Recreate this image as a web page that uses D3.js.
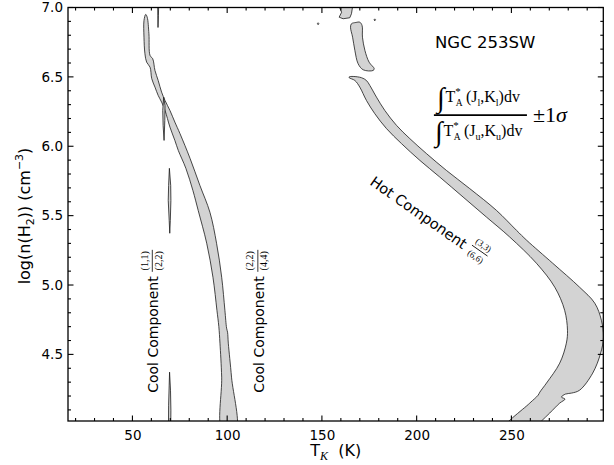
<!DOCTYPE html>
<html>
<head>
<meta charset="utf-8">
<script src="https://cdn.jsdelivr.net/npm/d3@7/dist/d3.min.js"></script>
<style>
body { margin: 0; background: #fff; }
text { font-family: "DejaVu Sans", sans-serif; fill: #000; }
.serif { font-family: "Liberation Serif", "DejaVu Serif", serif; }
</style>
</head>
<body>
<svg class="ratio_svg" width="614" height="465"></svg>
<script>
// tick values
var xMajor = [50, 100, 150, 200, 250];
var xMinor = [20, 30, 40, 60, 70, 80, 90, 110, 120, 130, 140, 160, 170, 180, 190, 210, 220, 230, 240, 260, 270, 280, 290];
var yMajor = [4.5, 5.0, 5.5, 6.0, 6.5, 7.0];
var yMinor = [4.1, 4.2, 4.3, 4.4, 4.6, 4.7, 4.8, 4.9, 5.1, 5.2, 5.3, 5.4, 5.6, 5.7, 5.8, 5.9, 6.1, 6.2, 6.3, 6.4, 6.6, 6.7, 6.8, 6.9];

// contour outlines, [T_K, log n(H2)]
var coolBand = [[57.0, 6.950], [57.8, 6.930], [58.7, 6.811], [59.3, 6.654], [60.7, 6.631], [61.9, 6.546],
    [63.6, 6.474], [65.4, 6.390], [67.2, 6.330], [69.8, 6.258], [72.4, 6.174], [75.1, 6.091],
    [80.4, 5.913], [85.6, 5.718], [90.9, 5.524], [94.4, 5.301], [97.1, 5.056], [98.8, 4.818],
    [99.7, 4.689], [100.2, 4.660], [100.6, 4.581], [102.3, 4.336], [104.5, 3.950],
    [97.5, 3.950], [97.1, 4.336], [96.2, 4.581], [95.6, 4.700], [94.6, 4.818], [92.5, 5.056],
    [89.2, 5.301], [84.7, 5.538], [81.9, 5.682], [78.2, 5.841], [74.2, 5.970], [72.4, 6.042],
    [69.8, 6.138], [67.2, 6.258], [65.4, 6.318], [63.6, 6.366], [61.9, 6.426], [60.2, 6.487],
    [59.3, 6.570], [57.5, 6.606], [56.6, 6.667], [56.1, 6.786], [56.1, 6.906]];
var coolSliver1 = [[63.3, 7.03], [63.9, 7.03], [63.7, 6.94], [63.5, 6.856], [63.4, 6.94]];
var coolSliver2 = [[66.5, 6.354], [67.2, 6.294], [67.1, 6.186], [66.7, 6.042], [66.2, 6.150], [66.0, 6.258]];
var coolSliver3 = [[69.5, 5.841], [70.2, 5.718], [70.3, 5.610], [70.0, 5.466], [69.7, 5.373],
    [69.4, 5.466], [68.9, 5.610], [69.1, 5.718]];
var coolSliver4 = [[69.6, 4.372], [70.1, 4.242], [70.3, 4.098], [70.2, 3.95], [69.0, 3.95], [69.1, 4.134], [69.4, 4.278]];

var hotBand = [[164.4, 6.500], [166.5, 6.503], [170.9, 6.494], [173.5, 6.474], [175.3, 6.438],
    [178.8, 6.354], [183.2, 6.258], [189.4, 6.150], [196.4, 6.055], [205.2, 5.947], [215.7, 5.826],
    [228.0, 5.695], [242.1, 5.538], [252.7, 5.394], [258.1, 5.322], [271.8, 5.157], [286.0, 4.984],
    [294.0, 4.869], [297.5, 4.746], [298.6, 4.624], [297.1, 4.509], [292.9, 4.365], [286.0, 4.242],
    [281.7, 4.221], [278.5, 4.214], [276.4, 4.192], [278.3, 4.178], [275.5, 4.149], [270.2, 4.077],
    [265.8, 4.019], [260.5, 3.950],
    [244.9, 3.950], [259.7, 4.149], [264.1, 4.206], [265.0, 4.228], [268.5, 4.293], [275.5, 4.437],
    [279.0, 4.581], [279.6, 4.674], [278.1, 4.818], [272.9, 4.984], [263.2, 5.157], [249.1, 5.346],
    [236.8, 5.490], [224.5, 5.634], [212.2, 5.778], [201.7, 5.898], [192.0, 6.019], [184.1, 6.127],
    [177.9, 6.235], [173.5, 6.330], [170.0, 6.426], [167.4, 6.474], [164.4, 6.494]];
var hotCrescent = [[165.6, 6.883], [167.9, 6.892], [170.0, 6.894], [171.2, 6.870], [171.4, 6.786],
    [172.7, 6.690], [174.9, 6.606], [177.6, 6.559], [177.0, 6.546], [171.8, 6.551], [169.1, 6.595],
    [167.4, 6.690], [166.2, 6.786], [165.1, 6.858]];
var hotBlob = [[158.9, 7.03], [159.1, 7.007], [160.4, 6.966], [159.1, 6.930], [161.2, 6.919],
    [164.7, 6.926], [165.6, 6.955], [166.2, 7.007], [166.3, 7.03]];
var hotDot1 = [[177.5, 6.911], [177.9, 6.918], [178.3, 6.911], [177.9, 6.904]];
var hotDot2 = [[147.6, 6.883], [148.0, 6.890], [148.4, 6.883], [148.0, 6.876]];

var svg_ratio = d3.select(".ratio_svg"),
    m = {l: 68, r: 603.3, t: 7.5, b: 421};

var x = d3.scaleLinear().domain([16, 298.5]).range([m.l, m.r]),
    y = d3.scaleLinear().domain([4.02, 7.0]).range([m.b, m.t]);

svg_ratio.append("defs").append("clipPath").attr("id", "plot_clip")
    .append("rect")
    .attr("x", m.l).attr("y", m.t)
    .attr("width", m.r - m.l).attr("height", m.b - m.t);

var grp = svg_ratio.append("g").attr("clip-path", "url(#plot_clip)");

var smooth = d3.line().x(function (d) { return x(d[0]); }).y(function (d) { return y(d[1]); })
    .curve(d3.curveCatmullRomClosed.alpha(0.5));
var sharp = d3.line().x(function (d) { return x(d[0]); }).y(function (d) { return y(d[1]); })
    .curve(d3.curveLinearClosed);

function draw_contour(pts, line) {
    grp.append("path")
        .attr("d", line(pts))
        .attr("fill", "#d3d3d3")
        .attr("stroke", "#1a1a1a")
        .attr("stroke-width", 0.8);
}

[coolBand, hotBand, hotCrescent].forEach(function (c) { draw_contour(c, smooth); });
[coolSliver1, coolSliver2, coolSliver3, coolSliver4, hotBlob, hotDot1, hotDot2]
    .forEach(function (c) { draw_contour(c, sharp); });

// tick labels from d3 axes, tick marks drawn inward on all four sides
function add_labels(axis, tx, ty) {
    var a = svg_ratio.append("g")
        .attr("transform", "translate(" + tx + "," + ty + ")")
        .call(axis);
    a.select(".domain").remove();
    a.selectAll("line").remove();
    a.selectAll("text").attr("font-size", 13.5).attr("fill", "#000");
}
add_labels(d3.axisBottom(x).tickValues(xMajor).tickSize(0).tickPadding(9), 0, m.b);
add_labels(d3.axisLeft(y).tickValues(yMajor).tickSize(0).tickPadding(5).tickFormat(d3.format(".1f")), m.l, 0);

var ticks = svg_ratio.append("g").attr("stroke", "#000").attr("stroke-width", 1.1);
function x_ticks(vals, len) {
    vals.forEach(function (v) {
        ticks.append("line").attr("x1", x(v)).attr("x2", x(v)).attr("y1", m.b).attr("y2", m.b - len);
        ticks.append("line").attr("x1", x(v)).attr("x2", x(v)).attr("y1", m.t).attr("y2", m.t + len);
    });
}
function y_ticks(vals, len) {
    vals.forEach(function (v) {
        ticks.append("line").attr("y1", y(v)).attr("y2", y(v)).attr("x1", m.l).attr("x2", m.l + len);
        ticks.append("line").attr("y1", y(v)).attr("y2", y(v)).attr("x1", m.r).attr("x2", m.r - len);
    });
}
x_ticks(xMajor, 5.5);
x_ticks(xMinor, 3);
y_ticks(yMajor, 5.5);
y_ticks(yMinor, 3);

svg_ratio.append("rect")
    .attr("x", m.l).attr("y", m.t)
    .attr("width", m.r - m.l).attr("height", m.b - m.t)
    .attr("fill", "none").attr("stroke", "#000").attr("stroke-width", 1.3);

// text made of pieces: [string, size, dx, offset from baseline, italic]
function math_text(parent, px, py, parts, cls) {
    var t = parent.append("text").attr("x", px).attr("y", py);
    if (cls) t.attr("class", cls);
    var prev = 0;
    parts.forEach(function (p) {
        var s = t.append("tspan").text(p[0])
            .attr("font-size", p[1])
            .attr("dx", p[2])
            .attr("dy", p[3] - prev);
        if (p[4]) s.attr("font-style", "italic").attr("class", "serif");
        prev = p[3];
    });
    return t;
}

// axis titles
math_text(svg_ratio, (m.l + m.r) / 2, 456, [["T", 16, 0, 0], ["K", 12, 0, 4, true], ["\u00a0\u00a0(K)", 16, 0, 0]])
    .attr("text-anchor", "middle");
var ylab = svg_ratio.append("g").attr("transform", "translate(30,216) rotate(-90)");
math_text(ylab, 0, 0, [["log(n(H", 16, 0, 0], ["2", 11, 0, 4], ["))\u00a0(cm", 16, 0, 0],
    ["\u22123", 11, 0, -7], [")", 16, 0, 0]]).attr("text-anchor", "middle");

svg_ratio.append("text")
    .text("NGC 253SW")
    .attr("x", x(209.7)).attr("y", y(6.706))
    .attr("font-size", 16.5);

// ratio legend
var fx0 = x(209.1), fx1 = x(258.2), fy = y(6.225);
function ratio_part(px, py, sub) {
    math_text(svg_ratio, px, py, [["\u222b", 28, 0, 5], ["T", 16, 1, 0], ["*", 11, 0, -7],
        ["A", 9.5, -5, 4], ["\u2009(J", 16, 0, 0], [sub, 10, 0, 3.5], [",K", 16, 0, 0], [sub, 10, 0, 3.5],
        [")dv", 16, 0, 0]], "serif");
}
ratio_part(fx0 + 3, fy - 13, "l");
svg_ratio.append("line")
    .attr("x1", fx0).attr("x2", fx1).attr("y1", fy).attr("y2", fy)
    .attr("stroke", "#000").attr("stroke-width", 1.8);
ratio_part(fx0 + 1, fy + 21, "u");
math_text(svg_ratio, fx1 + 6, fy + 7, [["\u00b11", 22, 0, 0], ["\u03c3", 22, 0, 0, true]], "serif");

// component labels with their transition fractions
function small_frac(parent, cx, num, den, yn, yb, yd, w, fs) {
    parent.append("text").attr("class", "serif").attr("x", cx).attr("y", yn)
        .attr("font-size", fs).attr("text-anchor", "middle").text(num);
    parent.append("line").attr("x1", cx - w / 2).attr("x2", cx + w / 2).attr("y1", yb).attr("y2", yb)
        .attr("stroke", "#000").attr("stroke-width", 0.8);
    parent.append("text").attr("class", "serif").attr("x", cx).attr("y", yd)
        .attr("font-size", fs).attr("text-anchor", "middle").text(den);
}

var hot = svg_ratio.append("g")
    .attr("transform", "translate(" + x(174.8) + "," + y(5.728) + ") rotate(35)");
hot.append("text").text("Hot Component").attr("font-size", 14.5);
small_frac(hot, 129, "(3,3)", "(6,6)", -12.5, -9, 1.5, 19, 9);

var cool1 = svg_ratio.append("g")
    .attr("transform", "translate(" + x(63.5) + "," + y(4.223) + ") rotate(-90)");
cool1.append("text").text("Cool Component").attr("font-size", 14);
small_frac(cool1, 132, "(1,1)", "(2,2)", -10.5, -5.7, 3.5, 22, 10);

var cool2 = svg_ratio.append("g")
    .attr("transform", "translate(" + x(119.2) + "," + y(4.223) + ") rotate(-90)");
cool2.append("text").text("Cool Component").attr("font-size", 14);
small_frac(cool2, 132, "(2,2)", "(4,4)", -10.5, -5.7, 3.5, 22, 10);
</script>
</body>
</html>
